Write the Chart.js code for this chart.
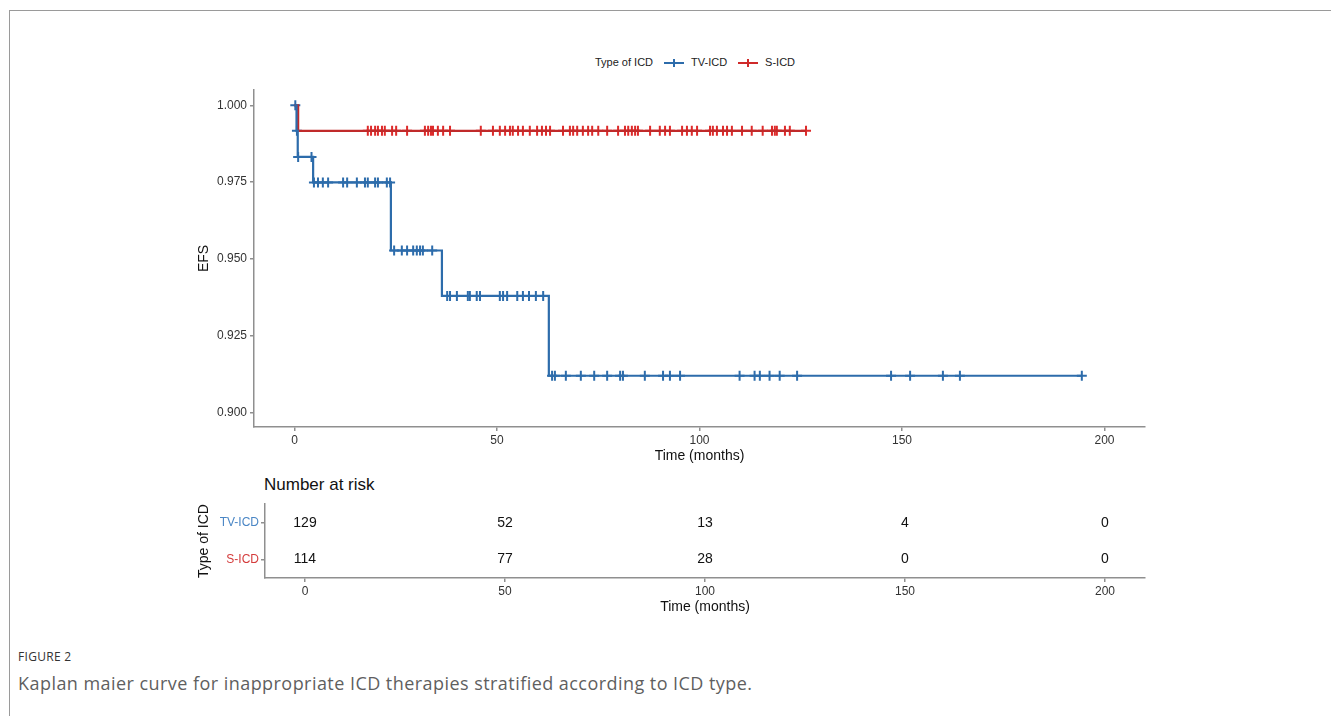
<!DOCTYPE html>
<html lang="en">
<head>
  <meta charset="UTF-8" />
  <title>Figure 2 - Inappropriate ICD therapies</title>
  <script src="https://cdn.jsdelivr.net/npm/chart.js"></script>
  <style>
    body {
      margin: 0;
      width: 1331px;
      height: 716px;
      position: relative;
      overflow: hidden;
      background: #fff;
      font-family: 'Liberation Sans', Arial, sans-serif;
    }
    .frame {
      position: absolute;
      left: 9px;
      top: 10px;
      right: -5px;
      bottom: -5px;
      border-left: 1.5px solid #9a9a9a;
      border-top: 1.5px solid #9a9a9a;
    }
    canvas { position: absolute; }
    .legend {
      position: absolute;
      left: 0;
      top: 55px;
      width: 1390px;
      display: flex;
      justify-content: center;
      align-items: center;
      font-size: 11px;
      color: #222;
      line-height: 15px;
    }
    .legend .key {
      display: inline-block;
      position: relative;
      width: 20px;
      height: 2px;
      margin: 0 7px 0 11px;
    }
    .legend .key::after {
      content: '';
      position: absolute;
      left: 9px;
      top: -3px;
      width: 2px;
      height: 8px;
      background: inherit;
    }
    .risk-title {
      position: absolute;
      left: 264px;
      top: 475px;
      font-size: 17px;
      line-height: 20px;
      color: #111;
    }
    .fig-label {
      position: absolute;
      left: 18px;
      top: 650px;
      font-family: 'Open Sans', sans-serif;
      font-size: 12px;
      line-height: 14px;
      color: #333;
      letter-spacing: 0.3px;
    }
    .fig-caption {
      position: absolute;
      left: 18px;
      top: 671px;
      font-family: 'Open Sans', sans-serif;
      font-size: 18px;
      line-height: 24px;
      letter-spacing: 0.45px;
      color: #5f5f5f;
    }
  </style>
</head>
<body>
  <div class="frame"></div>

  <div class="legend">
    <span>Type of ICD</span>
    <span class="key" style="background:#2d6cab"></span><span>TV-ICD</span>
    <span class="key" style="background:#cf2a2a"></span><span>S-ICD</span>
  </div>

  <canvas id="km" width="965" height="391" style="left:190px;top:74px"></canvas>

  <div class="risk-title">Number at risk</div>
  <canvas id="risk" width="975" height="121" style="left:180px;top:495px"></canvas>

  <div class="fig-label">FIGURE 2</div>
  <div class="fig-caption">Kaplan maier curve for inappropriate ICD therapies stratified according to ICD type.</div>

  <script>
    // time axis (months)
    const xTicks = [0, 50, 100, 150, 200];
    const yTicks = [0.900, 0.925, 0.950, 0.975, 1.000];

    // TV-ICD: event times and survival after each event
    const tvEventTimes = [0.5, 0.8, 4.6, 23.8, 36.4, 62.8];
    const tvSurvival = [0.9917, 0.9832, 0.9749, 0.9527, 0.9379, 0.9119];
    const tvLastTime = 194.4;
    const tvCensored = [0.2, 0.6, 0.9, 4.2, 4.8, 5.8, 7.0, 8.3, 12.0, 13.0, 15.4, 17.4, 18.1, 19.9, 20.6, 22.8, 23.6,
      24.6, 26.5, 27.8, 29.3, 30.2, 31.0, 31.7, 34.0,
      37.7, 38.4, 40.1, 42.8, 43.3, 45.0, 45.8, 50.7, 51.5, 52.5, 55.0, 56.4, 57.9, 59.6, 61.4,
      63.6, 64.3, 67.0, 70.7, 74.0, 77.2, 80.4, 81.1, 86.5, 91.0, 92.7, 95.2, 109.9, 113.6, 114.9, 117.3, 119.8, 124.1,
      147.3, 152.0, 160.1, 164.3, 194.4];

    // S-ICD
    const sEventTimes = [0.9];
    const sSurvival = [0.9917];
    const sLastTime = 126.3;
    const sCensored = [18.1, 18.9, 19.9, 20.6, 21.6, 22.3, 24.1, 25.1, 27.8, 32.2, 33.0, 33.7, 34.2, 35.4, 36.7, 38.4,
      46.0, 49.0, 50.7, 52.0, 53.2, 53.9, 55.2, 56.4, 58.1, 59.9, 61.1, 62.1, 63.1, 66.3, 68.0, 68.8, 69.8, 71.2, 72.5,
      73.5, 75.0, 77.2, 79.9, 81.6, 82.4, 83.3, 84.1, 84.8, 87.8, 90.2, 91.5, 92.7, 95.7, 96.9, 98.1, 99.4, 102.6,
      103.3, 104.3, 105.8, 106.8, 108.0, 110.5, 112.9, 115.6, 117.9, 118.6, 119.1, 121.1, 122.3, 126.3];

    // number at risk table
    const riskGroups = ['TV-ICD', 'S-ICD'];
    const riskTimes = [0, 50, 100, 150, 200];
    const tvAtRisk = [129, 52, 13, 4, 0];
    const sAtRisk = [114, 77, 28, 0, 0];

    const blue = '#2d6cab';
    const redLine = '#c02a2a';
    const redMark = '#dd2a2a';
    const axisColor = '#8f8f8f';
    const tickText = '#333';

    function stepPoints(times, surv, last) {
      const pts = [{ x: 0, y: 1 }];
      times.forEach((t, i) => pts.push({ x: t, y: surv[i] }));
      pts.push({ x: last, y: surv[surv.length - 1] });
      return pts;
    }

    function survAt(t, times, surv) {
      let s = 1;
      times.forEach((et, i) => { if (et <= t) s = surv[i]; });
      return s;
    }

    function censorPoints(list, times, surv) {
      return list.map(t => ({ x: t, y: survAt(t, times, surv) }));
    }

    function curve(data, color) {
      return {
        data: data, borderColor: color, borderWidth: 2.2, stepped: 'before',
        pointRadius: 0, fill: false, clip: false
      };
    }

    function marks(data, color) {
      return {
        data: data, showLine: false, pointStyle: 'cross', pointRadius: 5,
        pointBorderWidth: 2, borderColor: color, backgroundColor: color, clip: false
      };
    }

    const tickFont = { family: 'Liberation Sans', size: 12 };
    const titleFont = { family: 'Liberation Sans', size: 14 };

    function xAxis() {
      return {
        type: 'linear', min: -10, max: 210,
        afterBuildTicks: s => { s.ticks = xTicks.map(v => ({ value: v })); },
        afterFit: s => { s.height = 38; },
        ticks: { font: tickFont, color: tickText, padding: 2, maxRotation: 0 },
        grid: { drawOnChartArea: false, tickLength: 4, color: axisColor, lineWidth: 1.5 },
        border: { color: axisColor, width: 1.5 },
        title: { display: true, text: 'Time (months)', font: titleFont, color: '#111', padding: { top: 0, bottom: 0 } }
      };
    }

    new Chart(document.getElementById('km'), {
      type: 'line',
      data: {
        datasets: [
          curve(stepPoints(tvEventTimes, tvSurvival, tvLastTime), blue),
          curve(stepPoints(sEventTimes, sSurvival, sLastTime), redLine),
          marks(censorPoints(tvCensored, tvEventTimes, tvSurvival), blue),
          marks(censorPoints(sCensored, sEventTimes, sSurvival), redMark)
        ]
      },
      options: {
        responsive: false,
        animation: false,
        layout: { padding: { top: 16, right: 10, bottom: 0, left: 0 } },
        plugins: { legend: { display: false }, tooltip: { enabled: false } },
        scales: {
          x: xAxis(),
          y: {
            type: 'linear', min: 0.8952, max: 1.0050,
            afterBuildTicks: s => { s.ticks = yTicks.map(v => ({ value: v })); },
            afterFit: s => { s.width = 64; },
            ticks: { font: tickFont, color: tickText, padding: 3, callback: v => v.toFixed(3) },
            grid: { drawOnChartArea: false, tickLength: 4, color: axisColor, lineWidth: 1.5 },
            border: { color: axisColor, width: 1.5 },
            title: { display: true, text: 'EFS', font: titleFont, color: '#111', padding: { top: 6, bottom: 0 } }
          }
        }
      }
    });

    const riskNumbers = {
      id: 'riskNumbers',
      afterDatasetsDraw(chart) {
        const ctx = chart.ctx;
        const xs = chart.scales.x, ys = chart.scales.y;
        ctx.save();
        ctx.font = '14px "Liberation Sans"';
        ctx.fillStyle = '#111';
        ctx.textAlign = 'center';
        ctx.textBaseline = 'middle';
        [tvAtRisk, sAtRisk].forEach((row, i) => {
          row.forEach((n, j) => {
            ctx.fillText(String(n), xs.getPixelForValue(riskTimes[j]), ys.getPixelForValue(i));
          });
        });
        ctx.restore();
      }
    };

    new Chart(document.getElementById('risk'), {
      type: 'line',
      data: { datasets: [] },
      plugins: [riskNumbers],
      options: {
        responsive: false,
        animation: false,
        layout: { padding: { top: 5, right: 10, bottom: 0, left: 0 } },
        plugins: { legend: { display: false }, tooltip: { enabled: false } },
        scales: {
          x: xAxis(),
          y: {
            type: 'category', labels: riskGroups, offset: true,
            afterFit: s => { s.width = 85; },
            ticks: { font: tickFont, padding: 2, color: c => c.index === 0 ? '#4a86c5' : '#d43b3b' },
            grid: { drawOnChartArea: false, tickLength: 4, color: axisColor, lineWidth: 1.5, offset: false },
            border: { color: axisColor, width: 1.5 },
            title: { display: true, text: 'Type of ICD', font: titleFont, color: '#111', padding: { top: 16, bottom: 0 } }
          }
        }
      }
    });
  </script>
</body>
</html>
